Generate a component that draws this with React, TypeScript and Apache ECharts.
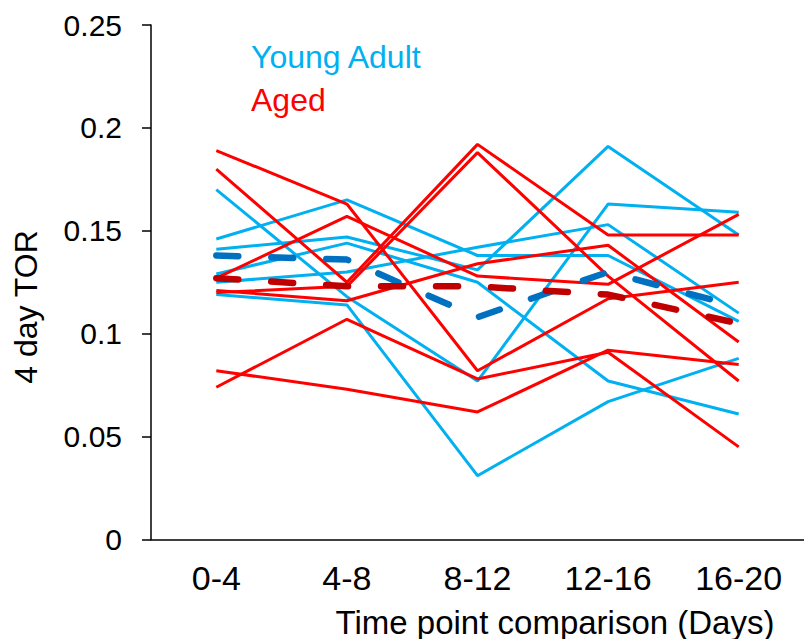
import React, { useEffect, useRef } from "react";
import * as echarts from "echarts";

const categories = ["0-4", "4-8", "8-12", "12-16", "16-20"];

// Young Adult individual lines
const ya1 = [0.170, 0.118, 0.077, 0.163, 0.159];
const ya2 = [0.146, 0.165, 0.138, 0.138, 0.106];
const ya3 = [0.141, 0.147, 0.131, 0.191, 0.148];
const ya4 = [0.129, 0.144, 0.125, 0.077, 0.061];
const ya5 = [0.125, 0.130, 0.142, 0.153, 0.110];
const ya6 = [0.119, 0.114, 0.031, 0.067, 0.088];
const youngAdultMean = [0.138, 0.136, 0.108, 0.130, 0.113];

// Aged individual lines
const ag1 = [0.189, 0.163, 0.082, 0.117, 0.125];
const ag2 = [0.180, 0.125, 0.192, 0.148, 0.148];
const ag3 = [0.127, 0.157, 0.128, 0.124, 0.158];
const ag4 = [0.121, 0.116, 0.134, 0.143, 0.096];
const ag5 = [0.120, 0.123, 0.188, 0.128, 0.077];
const ag6 = [0.082, 0.073, 0.062, 0.092, 0.085];
const ag7 = [0.074, 0.107, 0.078, 0.091, 0.045];
const agedMean = [0.127, 0.123, 0.123, 0.119, 0.105];

const youngAdultLines = [ya1, ya2, ya3, ya4, ya5, ya6];
const agedLines = [ag1, ag2, ag3, ag4, ag5, ag6, ag7];

const FONT = "'Liberation Sans', Arial, sans-serif";
const YA_COLOR = "#00B0F0";
const AGED_COLOR = "#FF0000";

export default function App() {
  const ref = useRef<HTMLDivElement>(null);
  useEffect(() => {
    if (!ref.current) return;
    const chart = echarts.init(ref.current, undefined, { renderer: "svg" });
    const thin = (data: number[], color: string, name: string) => ({
      type: "line",
      name,
      data,
      symbol: "none",
      lineStyle: { color, width: 3 },
      itemStyle: { color },
      z: 2,
    });
    const series: any[] = [];
    youngAdultLines.forEach((d, i) => series.push(thin(d, YA_COLOR, "Young Adult " + (i + 1))));
    agedLines.forEach((d, i) => series.push(thin(d, AGED_COLOR, "Aged " + (i + 1))));
    series.push({
      type: "line",
      name: "Young Adult mean",
      data: youngAdultMean,
      symbol: "none",
      lineStyle: { color: "#0070C0", width: 6.5, type: [22, 33], cap: "round" },
      z: 5,
    });
    series.push({
      type: "line",
      name: "Aged mean",
      data: agedMean,
      symbol: "none",
      lineStyle: { color: "#C00000", width: 6.5, type: [22, 33], cap: "round" },
      z: 5,
    });
    chart.setOption({
      animation: false,
      backgroundColor: "#ffffff",
      grid: { left: 151, top: 25, width: 666, height: 514.5 },
      xAxis: {
        type: "category",
        data: categories,
        boundaryGap: true,
        axisLine: { show: true, lineStyle: { color: "#000", width: 1.5 } },
        axisTick: { show: false },
        axisLabel: { color: "#000", fontSize: 34, fontFamily: FONT, margin: 21 },
        splitLine: { show: false },
      },
      yAxis: {
        type: "value",
        min: 0,
        max: 0.25,
        interval: 0.05,
        axisLine: { show: true, lineStyle: { color: "#000", width: 1.5 } },
        axisTick: { show: true, length: 9, lineStyle: { color: "#000", width: 1.5 } },
        axisLabel: { color: "#000", fontSize: 30, fontFamily: FONT, margin: 29 },
        splitLine: { show: false },
      },
      graphic: [
        {
          type: "text",
          x: 26,
          y: 307,
          rotation: Math.PI / 2,
          style: {
            text: "4 day TOR",
            fill: "#000",
            font: `32px ${FONT}`,
            textAlign: "center",
            textVerticalAlign: "middle",
          },
        },
        {
          type: "text",
          x: 555,
          y: 622,
          style: {
            text: "Time point comparison (Days)",
            fill: "#000",
            font: `33px ${FONT}`,
            textAlign: "center",
            textVerticalAlign: "middle",
          },
        },
        {
          type: "text",
          x: 251,
          y: 57,
          style: {
            text: "Young Adult",
            fill: YA_COLOR,
            font: `32px ${FONT}`,
            textAlign: "left",
            textVerticalAlign: "middle",
          },
        },
        {
          type: "text",
          x: 251,
          y: 100,
          style: {
            text: "Aged",
            fill: AGED_COLOR,
            font: `32px ${FONT}`,
            textAlign: "left",
            textVerticalAlign: "middle",
          },
        },
      ],
      series,
    });
    return () => chart.dispose();
  }, []);
  return (
    <div
      ref={ref}
      style={{ position: "absolute", left: 0, top: 0, width: 804, height: 639, background: "#fff" }}
    />
  );
}
